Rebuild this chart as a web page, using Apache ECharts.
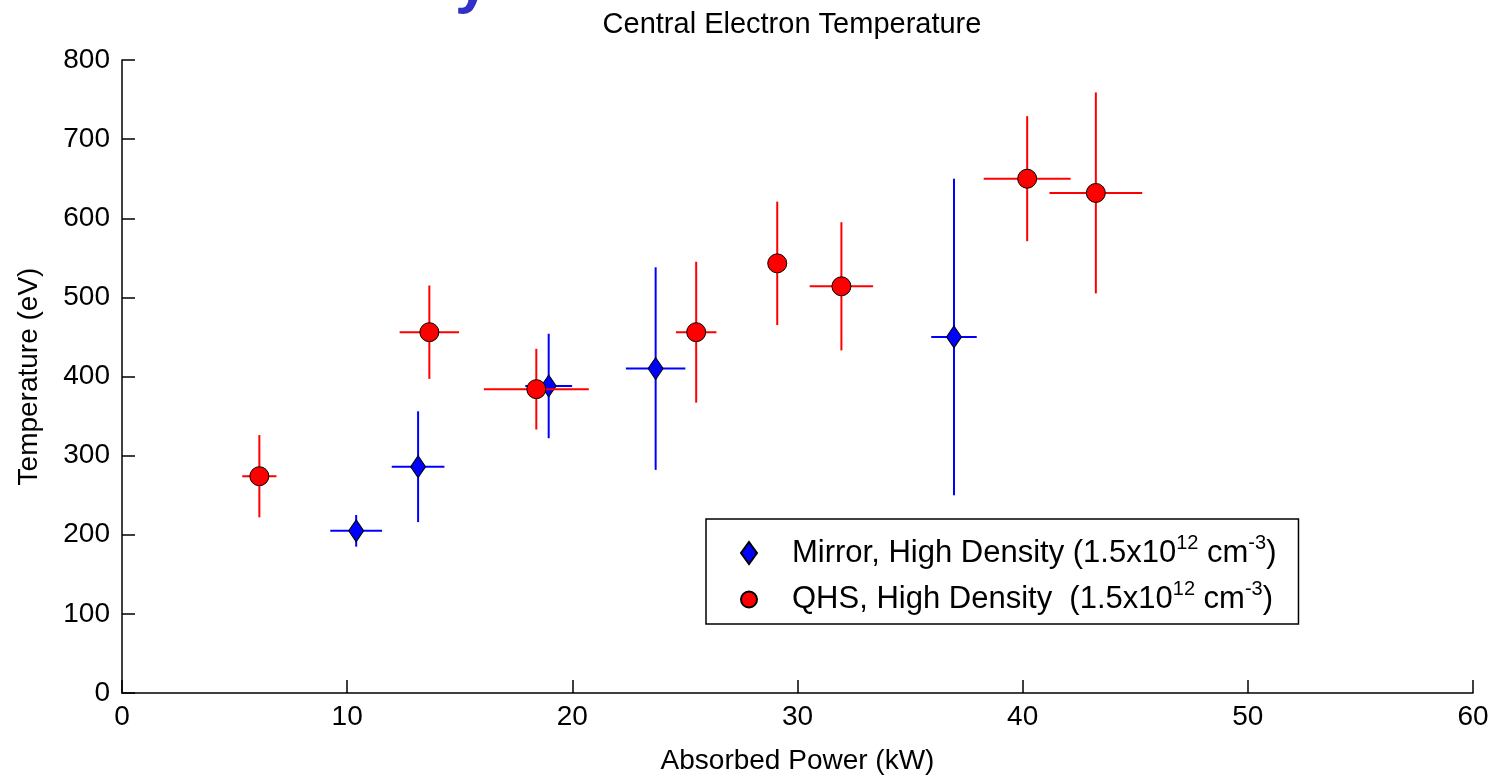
<!DOCTYPE html>
<html>
<head>
<meta charset="utf-8">
<title>Central Electron Temperature</title>
<script src="https://cdn.jsdelivr.net/npm/echarts@6/dist/echarts.min.js"></script>
<style>
  html, body { margin: 0; padding: 0; background: #fff; }
  #chart { width: 1490px; height: 775px; }
</style>
</head>
<body>
<div id="chart"></div>
<script>
// Mirror, high density (blue diamonds)
var mirrorPower = [10.4, 13.15, 18.95, 23.7, 36.95];
var mirrorTemp = [205, 286, 388, 410, 450];
var mirrorPowerErr = [1.15, 1.17, 1.04, 1.32, 1.01];
var mirrorTempErr = [20, 70, 66, 128, 200];

// QHS, high density (red circles)
var qhsPower = [6.1, 13.65, 18.4, 25.5, 29.1, 31.95, 40.2, 43.25];
var qhsTemp = [274, 456, 384, 456, 543, 514, 650, 632];
var qhsPowerErr = [0.76, 1.32, 2.33, 0.9, 0.35, 1.41, 1.93, 2.06];
var qhsTempErr = [52, 59, 51, 89, 78, 81, 79, 127];

var xTicks = [0, 10, 20, 30, 40, 50, 60];
var yTicks = [0, 100, 200, 300, 400, 500, 600, 700, 800];

var FONT = '"Liberation Sans", Arial, Helvetica, sans-serif';

var chart = echarts.init(document.getElementById('chart'));

function zip(xs, ys, dxs, dys) {
  var out = [];
  for (var i = 0; i < xs.length; i++) out.push([xs[i], ys[i], dxs[i], dys[i]]);
  return out;
}

// draws the cross of error bars for one point
function errorBars(color) {
  return function (params, api) {
    var x = api.value(0), y = api.value(1), dx = api.value(2), dy = api.value(3);
    var l = api.coord([x - dx, y]), r = api.coord([x + dx, y]);
    var t = api.coord([x, y + dy]), b = api.coord([x, y - dy]);
    var st = { stroke: color, lineWidth: 2 };
    return {
      type: 'group',
      children: [
        { type: 'line', shape: { x1: l[0], y1: l[1], x2: r[0], y2: r[1] }, style: st },
        { type: 'line', shape: { x1: t[0], y1: t[1], x2: b[0], y2: b[1] }, style: st }
      ]
    };
  };
}

var axisCommon = {
  type: 'value',
  axisLine: { show: true, onZero: false, lineStyle: { color: '#000', width: 1.5 } },
  axisTick: { show: true, inside: true, length: 13, lineStyle: { color: '#000', width: 1.5 } },
  splitLine: { show: false },
  nameLocation: 'middle',
  nameTextStyle: { fontSize: 28, color: '#000', fontFamily: FONT }
};

var legendNames = {
  'Mirror, High Density': '{n|Mirror, High Density (1.5x10}{s|12}{n| cm}{s|-3}{n|)}',
  'QHS, High Density': '{n|QHS, High Density  (1.5x10}{s|12}{n| cm}{s|-3}{n|)}'
};

var option = {
  backgroundColor: '#fff',
  animation: false,
  title: {
    text: 'Central Electron Temperature',
    left: 792,
    top: 10,
    padding: 0,
    textAlign: 'center',
    textStyle: { fontSize: 29, fontWeight: 'normal', color: '#000', fontFamily: FONT }
  },
  grid: { left: 122, right: 17, top: 60, bottom: 82, outerBoundsMode: 'none' },
  xAxis: Object.assign({}, axisCommon, {
    min: xTicks[0], max: xTicks[xTicks.length - 1], interval: 10,
    axisLabel: { fontSize: 28, color: '#000', margin: 10, fontFamily: FONT, showMinLabel: true, showMaxLabel: true },
    name: 'Absorbed Power (kW)',
    nameGap: 54
  }),
  yAxis: Object.assign({}, axisCommon, {
    min: yTicks[0], max: yTicks[yTicks.length - 1], interval: 100,
    axisLabel: { fontSize: 28, color: '#000', margin: 12, fontFamily: FONT, showMinLabel: true, showMaxLabel: true },
    name: 'Temperature (eV)',
    nameGap: 79
  }),
  legend: {
    orient: 'vertical',
    left: 706,
    top: 519,
    padding: [14, 22, 9, 34],
    itemWidth: 16,
    itemHeight: 22,
    itemGap: 11,
    borderColor: '#000',
    borderWidth: 1.5,
    backgroundColor: '#fff',
    selectedMode: false,
    data: [
      { name: 'Mirror, High Density', icon: 'diamond' },
      { name: 'QHS, High Density', icon: 'circle' }
    ],
    formatter: function (name) { return legendNames[name]; },
    textStyle: {
      padding: [0, 0, 0, 30],
      rich: {
        n: { fontSize: 31, lineHeight: 40, color: '#000', fontFamily: FONT },
        s: { fontSize: 20, lineHeight: 16, verticalAlign: 'top', color: '#000', fontFamily: FONT }
      }
    }
  },
  graphic: [{
    type: 'text',
    x: 455,
    y: -47,
    silent: true,
    style: { text: 'y', fill: '#3131c8', font: 'bold 62px ' + FONT, textVerticalAlign: 'top' }
  }],
  series: [
    {
      type: 'custom',
      name: 'Mirror error',
      renderItem: errorBars('#0000ff'),
      data: zip(mirrorPower, mirrorTemp, mirrorPowerErr, mirrorTempErr),
      encode: { x: 0, y: 1 },
      z: 2
    },
    {
      type: 'scatter',
      name: 'Mirror, High Density',
      symbol: 'diamond',
      symbolSize: [15, 22],
      itemStyle: { color: '#0000ff', borderColor: '#000', borderWidth: 1, opacity: 1 },
      data: mirrorPower.map(function (x, i) { return [x, mirrorTemp[i]]; }),
      z: 3
    },
    {
      type: 'custom',
      name: 'QHS error',
      renderItem: errorBars('#ff0000'),
      data: zip(qhsPower, qhsTemp, qhsPowerErr, qhsTempErr),
      encode: { x: 0, y: 1 },
      z: 4
    },
    {
      type: 'scatter',
      name: 'QHS, High Density',
      symbol: 'circle',
      symbolSize: 19,
      itemStyle: { color: '#ff0000', borderColor: '#000', borderWidth: 1, opacity: 1 },
      data: qhsPower.map(function (x, i) { return [x, qhsTemp[i]]; }),
      z: 5
    }
  ]
};

chart.setOption(option);
</script>
</body>
</html>
